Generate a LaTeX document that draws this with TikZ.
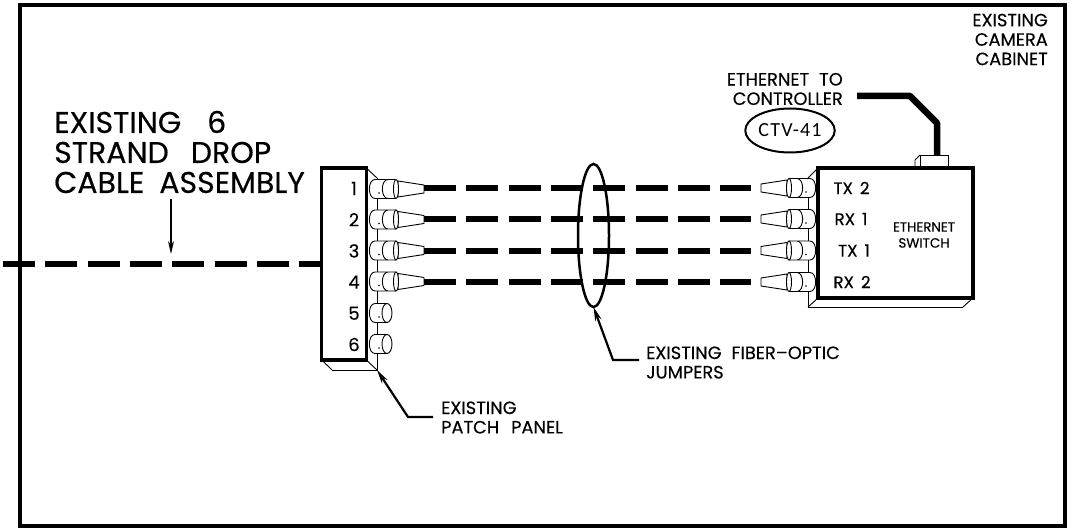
\documentclass[tikz,border=0pt]{standalone}
\usepackage{fontspec}
\setmainfont[FakeBold=0.35]{Poppins}
\newfontfamily\tagfont[LetterSpace=6]{Carlito}
\usetikzlibrary{arrows.meta, positioning, shapes.geometric}

\tikzset{
	thinline/.style={line width=0.9pt},
	frameline/.style={line width=3.4pt},
	cable/.style={line width=6.5pt,dash pattern=on 32pt off 10.3pt},
	leader/.style={line width=2.2pt,-{Stealth[length=14pt,width=6.5pt]}},
	bigtext/.style={font=\fontsize{30}{30}\selectfont,anchor=west,align=left,inner sep=0pt},
	midtext/.style={font=\fontsize{17.8}{19.4}\selectfont,inner sep=0pt},
	swtext/.style={font=\fontsize{13.4}{16}\selectfont,inner sep=0pt,align=center},
	rowtext/.style={font=\fontsize{16.7}{16.7}\selectfont,inner sep=0pt},
	portnum/.style={font=\fontsize{18}{18}\selectfont,inner sep=0pt},
	jack/.pic={
		\draw[thinline,fill=white] (-2,-9.5) .. controls (-9.5,-9.5) and (-9.5,9.5) .. (-2,9.5) -- (10,9.5) -- (10,-9.5) -- cycle;
		\draw[thinline,fill=white] (10,0) ellipse (5 and 9.5);
		\fill (2,4) circle (0.8);
	},
	plug/.pic={
		\draw[thinline,fill=white] (-2,-9.5) .. controls (-9.5,-9.5) and (-9.5,9.5) .. (-2,9.5) -- (10,9.5) -- (10,-9.5) -- cycle;
		\fill (2,4) circle (0.8);
		\draw[thinline,fill=white] (11,-9.5) .. controls (3.5,-9.5) and (3.5,9.5) .. (11,9.5) -- (19,9.5) -- (19,-9.5) -- cycle;
		\draw[thinline,fill=white] (21,-8) -- (47,-4) -- (47,4) -- (21,8) -- cycle;
		\draw[thinline,fill=white] (19,0) ellipse (2.5 and 9.5);
	}
}

\begin{document}
\begin{tikzpicture}[x=1pt,y=-1pt,node distance=31.2pt,on grid]
\useasboundingbox (0,0) rectangle (1079,529);

\node[draw,frameline,minimum width=1045pt,minimum height=521pt,outer sep=0pt] (cabinet) at (542.5,265.5) {};

% patch panel
\coordinate (pb_top) at (377,178);
\coordinate (pb_low) at (377,370);
\coordinate (pb_left) at (332,370);
\draw[thinline] (pb_top) -- (pb_low) -- (pb_left);
\node[draw,frameline,fill=white,minimum width=44.5pt,minimum height=192pt,outer sep=0pt] (panel) at (344,264) {};
\draw[thinline] (panel.north east) -- (pb_top);
\draw[thinline] (panel.south east) -- (pb_low);
\draw[thinline] (panel.south west) -- (pb_left);

\node[portnum] (num_1) at (354,188.5) {1};
\node[portnum] (num_2) [below=of num_1] {2};
\node[portnum] (num_3) [below=of num_2] {3};
\node[portnum] (num_4) [below=of num_3] {4};
\node[portnum] (num_5) [below=of num_4] {5};
\node[portnum] (num_6) [below=of num_5] {6};

\pic at (377,189) {plug};
\pic at (377,219.5) {plug};
\pic at (377,250.5) {plug};
\pic at (377,281.5) {plug};
\pic at (377,313) {jack};
\pic at (377,344) {jack};

% ethernet switch
\coordinate (sb_top) at (808,178);
\coordinate (sb_low) at (808,307);
\coordinate (sb_right) at (963,307);
\draw[thinline] (sb_top) -- (sb_low) -- (sb_right);
\node[draw,frameline,fill=white,minimum width=155pt,minimum height=130pt,outer sep=0pt] (switch) at (895.5,233) {};
\draw[thinline] (switch.north west) -- (sb_top);
\draw[thinline] (switch.south west) -- (sb_low);
\draw[thinline] (switch.south east) -- (sb_right);

\pic[xscale=-1] at (808,188) {plug};
\pic[xscale=-1] at (808,219) {plug};
\pic[xscale=-1] at (808,250.5) {plug};
\pic[xscale=-1] at (808,282) {plug};

\node[rowtext] (tx_2) at (851.5,188) {TX\hspace{7pt}2};
\node[rowtext] (rx_1) at (851,219) {RX\hspace{7pt}1};
\node[rowtext] (tx_1) at (854,250.5) {TX\hspace{7pt}1};
\node[rowtext] (rx_2) at (852,282) {RX\hspace{7pt}2};
\node[swtext] (switch_txt) at (924,235) {ETHERNET\\SWITCH};

% plug on top of switch
\node[draw,thinline,minimum width=28pt,minimum height=13pt,outer sep=0pt] (rj) at (934,161.5) {};
\draw[thinline] (rj.north west) -- ++(-5,5) -- ++(0,8);

\coordinate (eth_a) at (857,96);
\coordinate (eth_b) at (910,96);
\coordinate (eth_c) at (937,123);
\coordinate (eth_d) at (937,155);
\draw[line width=6.5pt,line join=round] (eth_a) -- (eth_b) -- (eth_c) -- (eth_d);

% cables
\coordinate (drop_a) at (3,264);
\path (drop_a) edge [cable] (panel.west);
\coordinate (l_1) at (424,188);
\coordinate (l_2) at (424,219);
\coordinate (l_3) at (424,251);
\coordinate (l_4) at (424,282);
\coordinate (r_1) at (751,188);
\coordinate (r_2) at (751,219);
\coordinate (r_3) at (751,251);
\coordinate (r_4) at (751,282);
\path
	(l_1) edge [cable] (r_1)
	(l_2) edge [cable] (r_2)
	(l_3) edge [cable] (r_3)
	(l_4) edge [cable] (r_4);

\node[draw,ellipse,line width=2.5pt,minimum width=31pt,minimum height=143pt,outer sep=0pt] (bundle) at (593.5,235.5) {};

% labels
\node[bigtext] (drop_txt) at (54,152) {EXISTING\hspace{26pt}6\\STRAND\hspace{22pt}DROP\\CABLE\hspace{15pt}ASSEMBLY};
\coordinate (drop_from) at (171,199);
\coordinate (drop_to) at (171,254);
\draw[line width=1.4pt,-{Stealth[length=13pt,width=6pt]}] (drop_from) -- (drop_to);

\node[midtext,anchor=west,align=left] (patch_txt) at (441,417.5) {EXISTING\\PATCH\hspace{12pt}PANEL};
\coordinate (patch_a) at (433,417);
\coordinate (patch_b) at (408,417);
\coordinate (patch_c) at (377,370);
\draw[leader] (patch_a) -- (patch_b) -- (patch_c);

\node[midtext,anchor=west,align=left] (jump_txt) at (646,362.5) {EXISTING\hspace{10pt}FIBER--OPTIC\\JUMPERS};
\coordinate (jump_a) at (639,360);
\coordinate (jump_b) at (613,360);
\draw[leader] (jump_a) -- (jump_b) -- (bundle.south);

\node[midtext,anchor=east,align=right] (ctrl_txt) at (843,89) {ETHERNET\hspace{10pt}TO\\CONTROLLER};
\node[draw,ellipse,line width=2pt,minimum width=80pt,minimum height=44pt,outer sep=0pt,inner sep=0pt,font=\tagfont\fontsize{20}{20}\selectfont] (ctv) at (790,130.5) {CTV-41};
\node[midtext,anchor=east,align=right] (cab_txt) at (1048,39.5) {EXISTING\\CAMERA\\CABINET};
\end{tikzpicture}
\end{document}
